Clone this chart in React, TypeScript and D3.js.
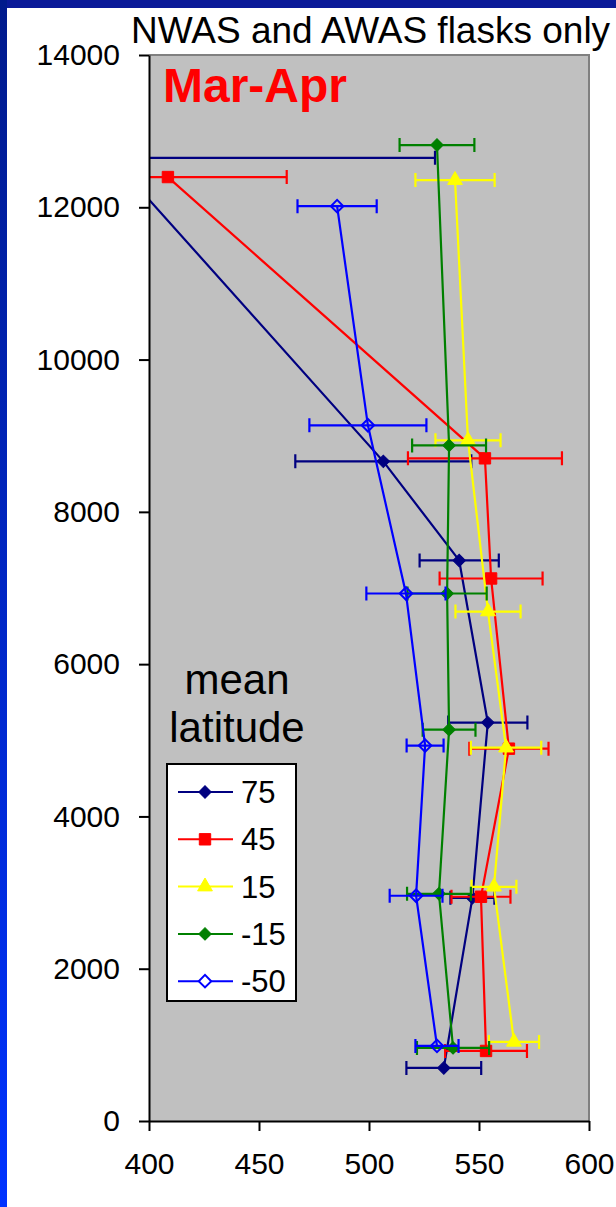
import React, { useRef, useEffect } from "react";
import * as d3 from "d3";

// mean latitude bands (legend order)
const latitudes = ["75", "45", "15", "-15", "-50"];

// values: x = mixing ratio, alt = altitude, err = +/- error bar
const x75 = [383, 506.5, 541, 554, 547, 534];
const alt75 = [12650, 8663, 7362, 5232, 2931, 697];
const err75 = [147, 40, 18, 18, 10, 17];

const x45 = [408.6, 552.7, 555.5, 563.6, 550.9, 553.2];
const alt45 = [12397, 8703, 7125, 4890, 2945, 920];
const err45 = [54, 35, 23.4, 18, 13.4, 18.6];

const x15 = [539.1, 545, 554.1, 562.3, 556.8, 565.9];
const alt15 = [12357, 8939, 6691, 4903, 3076, 1039];
const err15 = [18, 14.8, 14.8, 16, 10.2, 11.4];

const xm15 = [530.9, 536.4, 535.5, 536.4, 531.8, 538.2];
const altm15 = [12817, 8873, 6928, 5140, 2984, 960];
const errm15 = [17, 16.8, 18, 12, 14.5, 16.4];

const xm50 = [485.5, 499.5, 516.8, 525.5, 521.4, 530.9];
const altm50 = [12015, 9137, 6928, 4930, 2958, 986];
const errm50 = [18, 26.6, 18, 8.4, 12, 9.8];

const xTicks = [400, 450, 500, 550, 600];
const yTicks = [0, 2000, 4000, 6000, 8000, 10000, 12000, 14000];

const W = 616;
const H = 1207;
const FONT = "'Liberation Sans', Arial, sans-serif";

const series = [
  { name: latitudes[0], xs: x75, alts: alt75, errs: err75, color: "#000080", shape: "diamond", filled: true },
  { name: latitudes[1], xs: x45, alts: alt45, errs: err45, color: "#ff0000", shape: "square", filled: true },
  { name: latitudes[2], xs: x15, alts: alt15, errs: err15, color: "#ffff00", shape: "triangle", filled: true },
  { name: latitudes[3], xs: xm15, alts: altm15, errs: errm15, color: "#008000", shape: "diamond", filled: true },
  { name: latitudes[4], xs: xm50, alts: altm50, errs: errm50, color: "#0000ff", shape: "diamond", filled: false },
];

const markerPath = (shape: string) => {
  if (shape === "square") return d3.symbol().type(d3.symbolSquare).size(130)();
  if (shape === "triangle") return d3.symbol().type(d3.symbolTriangle).size(95)();
  return d3.symbol().type(d3.symbolSquare).size(78)();
};

const App = () => {
  const svgRef = useRef<SVGSVGElement>(null);

  useEffect(() => {
    const svg = d3.select(svgRef.current);
    svg.selectAll("*").remove();

    const x = d3.scaleLinear().domain([400, 600]).range([149, 589]);
    const y = d3.scaleLinear().domain([0, 14000]).range([1121, 55]);

    // slide frame
    const defs = svg.append("defs");
    const grad = defs
      .append("linearGradient")
      .attr("id", "edge")
      .attr("x1", 0)
      .attr("y1", 0)
      .attr("x2", 0)
      .attr("y2", 1);
    grad.append("stop").attr("offset", "0%").attr("stop-color", "#001a8c");
    grad.append("stop").attr("offset", "100%").attr("stop-color", "#0033ff");
    defs
      .append("clipPath")
      .attr("id", "plotclip")
      .append("rect")
      .attr("x", x(400))
      .attr("y", y(14000))
      .attr("width", x(600) - x(400))
      .attr("height", y(0) - y(14000));

    svg.append("rect").attr("width", W).attr("height", H).attr("fill", "#fff");
    svg.append("rect").attr("width", W).attr("height", 8).attr("fill", "#0a1a99");
    svg.append("rect").attr("width", 7).attr("height", H).attr("fill", "url(#edge)");

    // plot area
    svg
      .append("rect")
      .attr("x", x(400))
      .attr("y", y(14000))
      .attr("width", x(600) - x(400))
      .attr("height", y(0) - y(14000))
      .attr("fill", "#c0c0c0");
    svg
      .append("path")
      .attr("d", `M${x(400)},${y(14000)}H${x(600)}V${y(0)}`)
      .attr("fill", "none")
      .attr("stroke", "#808080")
      .attr("stroke-width", 2);

    // title texts
    svg
      .append("text")
      .attr("x", 131)
      .attr("y", 43)
      .style("font-family", FONT)
      .style("font-size", "37px")
      .text("NWAS and AWAS flasks only");
    svg
      .append("text")
      .attr("x", 163)
      .attr("y", 102)
      .style("font-family", FONT)
      .style("font-size", "48px")
      .style("font-weight", "bold")
      .attr("fill", "#ff0000")
      .text("Mar-Apr");

    // series
    const plot = svg.append("g").attr("clip-path", "url(#plotclip)");
    series.forEach((s) => {
      const pts = s.xs.map((v, i) => ({ v, a: s.alts[i], e: s.errs[i] }));
      const g = plot.append("g");
      g.append("path")
        .attr("d", d3.line<any>().x((d) => x(d.v)).y((d) => y(d.a))(pts))
        .attr("fill", "none")
        .attr("stroke", s.color)
        .attr("stroke-width", 2.2);
      pts.forEach((d) => {
        const yy = y(d.a);
        const x0 = x(d.v - d.e);
        const x1 = x(d.v + d.e);
        g.append("path")
          .attr("d", `M${x0},${yy}H${x1}M${x0},${yy - 7}V${yy + 7}M${x1},${yy - 7}V${yy + 7}`)
          .attr("fill", "none")
          .attr("stroke", s.color)
          .attr("stroke-width", 2.2);
      });
      g.selectAll("path.mk")
        .data(pts)
        .enter()
        .append("path")
        .attr("class", "mk")
        .attr("d", markerPath(s.shape))
        .attr("transform", (d) =>
          `translate(${x(d.v)},${y(d.a)})` + (s.shape === "diamond" ? " rotate(45)" : "")
        )
        .attr("fill", s.filled ? s.color : "none")
        .attr("stroke", s.color)
        .attr("stroke-width", s.filled ? 1 : 2);
    });

    // axes
    const xAxis = svg
      .append("g")
      .attr("transform", `translate(0,${y(0)})`)
      .call(d3.axisBottom(x).tickValues(xTicks).tickSize(10).tickSizeOuter(0).tickPadding(22));
    const yAxis = svg
      .append("g")
      .attr("transform", `translate(${x(400)},0)`)
      .call(
        d3
          .axisLeft(y)
          .tickValues(yTicks)
          .tickSize(10)
          .tickSizeOuter(0)
          .tickPadding(19)
          .tickFormat(d3.format("d"))
      );
    [xAxis, yAxis].forEach((ax) => {
      ax.select(".domain").attr("stroke", "#000").attr("stroke-width", 2);
      ax.selectAll(".tick line").attr("stroke", "#000").attr("stroke-width", 2);
      ax.selectAll(".tick text")
        .attr("fill", "#000")
        .style("font-family", FONT)
        .style("font-size", "30px");
    });

    // legend heading
    svg
      .append("text")
      .attr("x", 237)
      .attr("text-anchor", "middle")
      .style("font-family", FONT)
      .style("font-size", "42px")
      .selectAll("tspan")
      .data(["mean", "latitude"])
      .enter()
      .append("tspan")
      .attr("x", 237)
      .attr("y", (_, i) => 694 + i * 48)
      .text((d) => d);

    // legend box
    const legend = svg.append("g");
    legend
      .append("rect")
      .attr("x", 167)
      .attr("y", 764)
      .attr("width", 129)
      .attr("height", 237)
      .attr("fill", "#fff")
      .attr("stroke", "#000")
      .attr("stroke-width", 2);
    series.forEach((s, i) => {
      const ly = 792 + i * 47.3;
      legend
        .append("line")
        .attr("x1", 178)
        .attr("x2", 233)
        .attr("y1", ly)
        .attr("y2", ly)
        .attr("stroke", s.color)
        .attr("stroke-width", 2);
      legend
        .append("path")
        .attr("d", markerPath(s.shape))
        .attr("transform", `translate(205,${ly})` + (s.shape === "diamond" ? " rotate(45)" : ""))
        .attr("fill", s.filled ? s.color : "#fff")
        .attr("stroke", s.color)
        .attr("stroke-width", s.filled ? 1 : 2);
      legend
        .append("text")
        .attr("x", 241)
        .attr("y", ly)
        .attr("dy", "0.36em")
        .style("font-family", FONT)
        .style("font-size", "31px")
        .text(s.name);
    });
  }, []);

  return (
    <svg
      ref={svgRef}
      width={W}
      height={H}
      style={{ position: "absolute", left: 0, top: 0, display: "block" }}
    ></svg>
  );
};

export default App;
